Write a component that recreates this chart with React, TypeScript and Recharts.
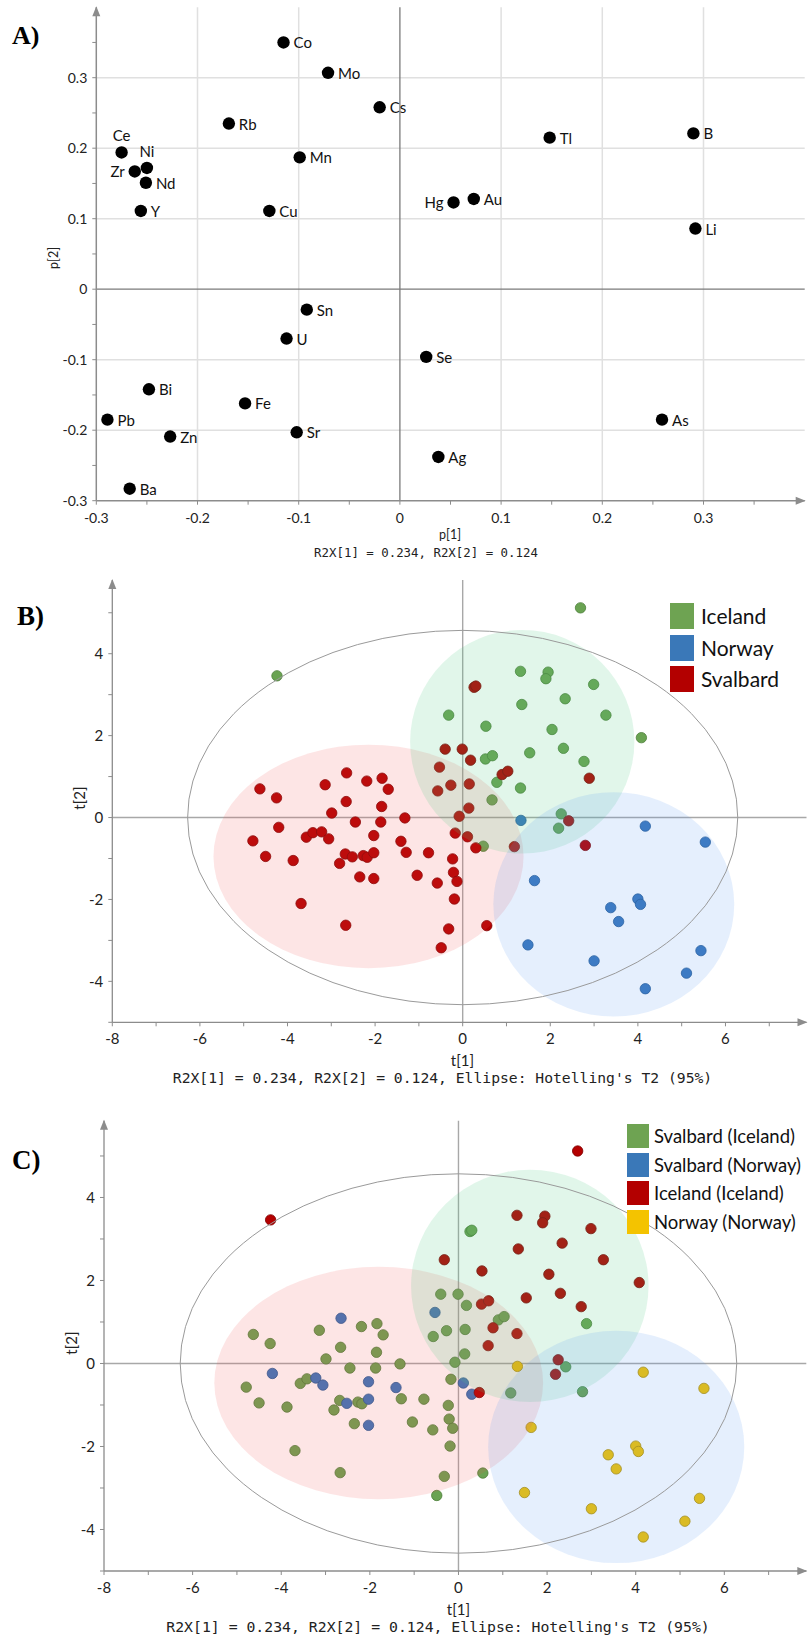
import React from 'react';
import {
  ScatterChart,
  Scatter,
  XAxis,
  YAxis,
  ReferenceLine,
  ReferenceArea,
  ReferenceDot
} from 'recharts';

// ---- Panel A: loadings ----
const loadingNames = ['Co', 'Mo', 'Cs', 'Rb', 'Ce', 'Ni', 'Zr', 'Nd', 'Y', 'Mn', 'Cu', 'Tl', 'B', 'Hg', 'Au', 'Li', 'Sn', 'U', 'Bi', 'Fe', 'Pb', 'Zn', 'Sr', 'Ba', 'Se', 'As', 'Ag'];
const loadingP1 = [-0.115, -0.071, -0.02, -0.169, -0.275, -0.25, -0.262, -0.251, -0.256, -0.099, -0.129, 0.148, 0.29, 0.053, 0.073, 0.292, -0.092, -0.112, -0.248, -0.153, -0.289, -0.227, -0.102, -0.267, 0.026, 0.259, 0.038];
const loadingP2 = [0.35, 0.307, 0.258, 0.235, 0.194, 0.172, 0.167, 0.151, 0.111, 0.187, 0.111, 0.215, 0.221, 0.123, 0.128, 0.086, -0.029, -0.07, -0.142, -0.162, -0.185, -0.209, -0.203, -0.283, -0.096, -0.185, -0.238];

const ticksA = [-0.3, -0.25, -0.2, -0.15, -0.1, -0.05, 0, 0.05, 0.1, 0.15, 0.2, 0.25, 0.3, 0.35];
const gridA = [-0.2, -0.1, 0.1, 0.2, 0.3];

// ---- Panels B and C: scores ----
const svalbardT1 = [-4.63, -4.25, -4.2, -4.79, -3.14, -2.65, -2.19, -1.84, -1.7, -2.66, -1.85, -2.99, -2.45, -1.87, -1.32, -3.57, -3.42, -3.22, -3.06, -2.03, -1.41, -4.5, -3.87, -3.69, -2.68, -2.81, -2.52, -2.27, -2.18, -2.03, -2.35, -2.03, -2.67, -1.29, 0.26, 0.3, -0.4, -0.01, 0.18, -0.53, 0.9, 1.03, -0.27, 0.15, -0.57, 2.89, 0.14, -0.08, -0.17, 0.11, 2.42, 1.18, 2.8, 0.3, -0.78, -0.23, -0.21, -0.13, -1.04, -0.58, -0.19, -0.32, 0.55, -0.49];
const svalbardT2 = [0.7, 0.48, -0.24, -0.57, 0.8, 1.09, 0.89, 0.96, 0.69, 0.39, 0.27, 0.11, -0.11, -0.11, -0.01, -0.48, -0.37, -0.35, -0.52, -0.44, -0.58, -0.95, -1.05, -2.1, -0.89, -1.12, -0.96, -0.93, -0.97, -0.86, -1.45, -1.49, -2.63, -0.85, 3.18, 3.21, 1.67, 1.67, 1.4, 1.23, 1.05, 1.13, 0.79, 0.82, 0.65, 0.96, 0.23, 0.03, -0.38, -0.47, -0.08, -0.71, -0.68, -0.74, -0.86, -1.01, -1.34, -1.56, -1.41, -1.6, -1.99, -2.72, -2.64, -3.18];
// predicted origin of each Svalbard sample (panel C)
const svalbardClass = ['I', 'I', 'N', 'I', 'I', 'N', 'I', 'I', 'I', 'I', 'I', 'I', 'I', 'I', 'I', 'I', 'I', 'N', 'N', 'N', 'N', 'I', 'I', 'I', 'I', 'I', 'N', 'I', 'I', 'N', 'I', 'N', 'I', 'I', 'I', 'I', 'I', 'I', 'I', 'N', 'I', 'I', 'I', 'I', 'I', 'I', 'I', 'I', 'I', 'N', 'I', 'I', 'I', 'N', 'I', 'I', 'I', 'I', 'I', 'I', 'I', 'I', 'I', 'I'];

const icelandT1 = [-4.24, 2.69, 1.32, 1.95, 1.9, 2.99, 2.34, 1.35, 3.27, -0.32, 0.53, 2.04, 4.08, 2.3, 1.53, 2.77, 0.52, 0.68, 0.78, 1.32, 0.67, 2.25, 2.19, 0.47];
const icelandT2 = [3.46, 5.12, 3.57, 3.55, 3.39, 3.25, 2.9, 2.76, 2.5, 2.5, 2.23, 2.15, 1.95, 1.69, 1.58, 1.37, 1.43, 1.51, 0.86, 0.72, 0.43, 0.09, -0.26, -0.7];

const norwayT1 = [1.33, 4.17, 5.54, 1.64, 3.38, 4.0, 4.06, 3.56, 1.49, 3.0, 5.44, 5.11, 4.17];
const norwayT2 = [-0.07, -0.21, -0.6, -1.54, -2.2, -1.99, -2.12, -2.54, -3.11, -3.5, -3.25, -3.8, -4.18];

const ticksX = [-8, -7, -6, -5, -4, -3, -2, -1, 0, 1, 2, 3, 4, 5, 6, 7];
const ticksY = [-5, -4, -3, -2, -1, 0, 1, 2, 3, 4, 5];

// class ellipses: Svalbard, Iceland, Norway
const ellipseCxB = [-2.15, 1.36, 3.45];
const ellipseCyB = [-0.95, 1.85, -2.12];
const ellipseRxB = [3.54, 2.56, 2.75];
const ellipseRyB = [2.73, 2.73, 2.74];
const ellipseCxC = [-1.8, 1.61, 3.56];
const ellipseCyC = [-0.47, 1.87, -2.01];
const ellipseRxC = [3.71, 2.68, 2.89];
const ellipseRyC = [2.8, 2.8, 2.8];
const hotelling = [6.28, 4.57];

const AXIS = '#8c8c8c';
const SANS = 'Lato, "Open Sans", sans-serif';
const MONO = '"DejaVu Sans Mono", monospace';
const ellipseFills = ['rgb(240,80,80)', 'rgb(80,200,130)', 'rgb(80,150,240)'];
const ellipseOpacity = [0.15, 0.17, 0.15];

const GREEN = { fill: '#6aa352', stroke: '#4b7d38' };
const BLUE = { fill: '#3a77bd', stroke: '#245a96' };
const RED = { fill: '#b40000', stroke: '#7d0000' };
const YELLOW = { fill: '#f2c200', stroke: '#b38f00' };

const labelSide: Record<string, string> = { Ce: 'top', Ni: 'top', Zr: 'left', Hg: 'left' };

const zip = (xs: number[], ys: number[]) => xs.map((x, i) => ({ x, y: ys[i] }));

const loadingData = loadingNames.map((name, i) => ({ name, x: loadingP1[i], y: loadingP2[i] }));

const dot = (c: { fill: string; stroke: string }) => (p: any) => (
  <circle cx={p.cx} cy={p.cy} r={5.2} fill={c.fill} stroke={c.stroke} strokeWidth={0.8} />
);

const loadingShape = (p: any) => {
  const side = labelSide[p.payload.name] || 'right';
  let tx = p.cx + 10;
  let ty = p.cy;
  let anchor: 'start' | 'end' | 'middle' = 'start';
  if (side === 'left') {
    tx = p.cx - 10;
    anchor = 'end';
  } else if (side === 'top') {
    tx = p.cx;
    ty = p.cy - 17;
    anchor = 'middle';
  }
  return (
    <g>
      <circle cx={p.cx} cy={p.cy} r={6.2} fill="#000" />
      <text x={tx} y={ty} textAnchor={anchor} dominantBaseline="central" fontSize={15} fontFamily={SANS} fill="#111">
        {p.payload.name}
      </text>
    </g>
  );
};

const ellipse = (fill: string, opacity: number, stroke?: string) => (p: any) => (
  <ellipse
    cx={p.x + p.width / 2}
    cy={p.y + p.height / 2}
    rx={Math.abs(p.width) / 2}
    ry={Math.abs(p.height) / 2}
    fill={fill}
    fillOpacity={opacity}
    stroke={stroke || 'none'}
    strokeWidth={1}
  />
);

const arrowRight = (p: any) => <path d={`M${p.cx + 1},${p.cy} l-10,-4 l0,8 z`} fill={AXIS} />;
const arrowUp = (p: any) => <path d={`M${p.cx},${p.cy - 1} l-4,10 l8,0 z`} fill={AXIS} />;

const fmtA = (v: number) => {
  if (Math.abs(v * 10 - Math.round(v * 10)) > 1e-6) return '';
  return Math.abs(v) < 1e-9 ? '0' : v.toFixed(1);
};
const fmtBC = (v: number) => (v % 2 === 0 ? String(v) : '');

const tickStyle = (size: number) => ({ fontSize: size, fill: '#222', fontFamily: SANS });

function ScorePlot({
  height,
  margin,
  cx,
  cy,
  rx,
  ry,
  yMax,
  series
}: {
  height: number;
  margin: { top: number; right: number; bottom: number; left: number };
  cx: number[];
  cy: number[];
  rx: number[];
  ry: number[];
  yMax: number;
  series: { data: { x: number; y: number }[]; color: { fill: string; stroke: string } }[];
}) {
  return (
    <ScatterChart width={810} height={height} margin={margin}>
      <XAxis
        type="number"
        dataKey="x"
        domain={[-8, 7.85]}
        ticks={ticksX}
        interval={0}
        tickFormatter={fmtBC}
        tick={tickStyle(15)}
        tickSize={4}
        tickMargin={7}
        height={30}
        axisLine={{ stroke: AXIS, strokeWidth: 1.3 }}
        tickLine={{ stroke: AXIS }}
        allowDataOverflow
      />
      <YAxis
        type="number"
        dataKey="y"
        domain={[-5, yMax]}
        ticks={ticksY}
        interval={0}
        tickFormatter={fmtBC}
        tick={tickStyle(15)}
        tickSize={4}
        tickMargin={5}
        width={60}
        axisLine={{ stroke: AXIS, strokeWidth: 1.3 }}
        tickLine={{ stroke: AXIS }}
        allowDataOverflow
      />
      <ReferenceLine x={0} stroke="#a8a8a8" strokeWidth={1.4} />
      <ReferenceLine y={0} stroke="#a8a8a8" strokeWidth={1.4} />
      {series.map((s, i) => (
        <Scatter key={i} data={s.data} shape={dot(s.color)} isAnimationActive={false} />
      ))}
      {cx.map((c, i) => (
        <ReferenceArea
          key={'e' + i}
          x1={c - rx[i]}
          x2={c + rx[i]}
          y1={cy[i] - ry[i]}
          y2={cy[i] + ry[i]}
          ifOverflow="visible"
          shape={ellipse(ellipseFills[i], ellipseOpacity[i])}
          zIndex={700}
        />
      ))}
      <ReferenceArea
        x1={-hotelling[0]}
        x2={hotelling[0]}
        y1={-hotelling[1]}
        y2={hotelling[1]}
        ifOverflow="visible"
        shape={ellipse('none', 0, '#9a9a9a')}
        zIndex={710}
      />
      <ReferenceDot x={7.85} y={-5} ifOverflow="visible" shape={arrowRight} zIndex={720} />
      <ReferenceDot x={-8} y={yMax} ifOverflow="visible" shape={arrowUp} zIndex={720} />
    </ScatterChart>
  );
}

const svalbardPoints = zip(svalbardT1, svalbardT2);
const icelandPoints = zip(icelandT1, icelandT2);
const norwayPoints = zip(norwayT1, norwayT2);
const svalbardAsIceland = svalbardPoints.filter((_, i) => svalbardClass[i] === 'I');
const svalbardAsNorway = svalbardPoints.filter((_, i) => svalbardClass[i] === 'N');

const legendB = [
  { label: 'Iceland', color: '#6ea352' },
  { label: 'Norway', color: '#3a78b8' },
  { label: 'Svalbard', color: '#b30000' }
];
const legendC = [
  { label: 'Svalbard (Iceland)', color: '#6ea352' },
  { label: 'Svalbard (Norway)', color: '#3a78b8' },
  { label: 'Iceland (Iceland)', color: '#b30000' },
  { label: 'Norway (Norway)', color: '#f4c300' }
];

export default function App() {
  return (
    <div style={{ position: 'absolute', left: 0, top: 0, width: 810, height: 1638, background: '#fff', overflow: 'hidden' }}>
      {/* Panel A */}
      <div style={{ position: 'absolute', left: 0, top: 0 }}>
        <ScatterChart width={810} height={560} margin={{ top: 7.2, right: 5.3, bottom: 29.3, left: 36.3 }}>
          <XAxis
            type="number"
            dataKey="x"
            domain={[-0.3, 0.4]}
            ticks={ticksA}
            interval={0}
            tickFormatter={fmtA}
            tick={tickStyle(14)}
            tickSize={4}
            tickMargin={8}
            height={30}
            axisLine={{ stroke: AXIS, strokeWidth: 1.5 }}
            tickLine={{ stroke: AXIS }}
            allowDataOverflow
          />
          <YAxis
            type="number"
            dataKey="y"
            domain={[-0.3, 0.4]}
            ticks={ticksA}
            interval={0}
            tickFormatter={fmtA}
            tick={tickStyle(14)}
            tickSize={4}
            tickMargin={5}
            width={60}
            axisLine={{ stroke: AXIS, strokeWidth: 1.5 }}
            tickLine={{ stroke: AXIS }}
            allowDataOverflow
          />
          {gridA.map((v) => (
            <ReferenceLine key={'gx' + v} x={v} stroke="#e0e0e0" strokeWidth={1.5} zIndex={-50} />
          ))}
          {gridA.map((v) => (
            <ReferenceLine key={'gy' + v} y={v} stroke="#e0e0e0" strokeWidth={1.5} zIndex={-50} />
          ))}
          <ReferenceLine x={0} stroke="#7a7a7a" strokeWidth={1.3} zIndex={-40} />
          <ReferenceLine y={0} stroke="#7a7a7a" strokeWidth={1.3} zIndex={-40} />
          <Scatter data={loadingData} shape={loadingShape} isAnimationActive={false} />
          <ReferenceDot x={0.4} y={-0.3} ifOverflow="visible" shape={arrowRight} zIndex={720} />
          <ReferenceDot x={-0.3} y={0.4} ifOverflow="visible" shape={arrowUp} zIndex={720} />
        </ScatterChart>
      </div>

      {/* Panel B */}
      <div style={{ position: 'absolute', left: 0, top: 560 }}>
        <ScorePlot
          height={540}
          margin={{ top: 20, right: 3.5, bottom: 47.7, left: 52.3 }}
          cx={ellipseCxB}
          cy={ellipseCyB}
          rx={ellipseRxB}
          ry={ellipseRyB}
          yMax={5.8}
          series={[
            { data: icelandPoints, color: GREEN },
            { data: norwayPoints, color: BLUE },
            { data: svalbardPoints, color: RED }
          ]}
        />
      </div>

      {/* Panel C */}
      <div style={{ position: 'absolute', left: 0, top: 1100 }}>
        <ScorePlot
          height={538}
          margin={{ top: 20.7, right: 3.7, bottom: 37, left: 44 }}
          cx={ellipseCxC}
          cy={ellipseCyC}
          rx={ellipseRxC}
          ry={ellipseRyC}
          yMax={5.85}
          series={[
            { data: svalbardAsIceland, color: GREEN },
            { data: svalbardAsNorway, color: BLUE },
            { data: icelandPoints, color: RED },
            { data: norwayPoints, color: YELLOW }
          ]}
        />
      </div>

      {/* legends */}
      {legendB.map((l, i) => (
        <div key={l.label} style={{ position: 'absolute', left: 670, top: 603 + i * 31.5, height: 26, display: 'flex', alignItems: 'center' }}>
          <div style={{ width: 24, height: 26, background: l.color }} />
          <span style={{ marginLeft: 7, fontFamily: SANS, fontSize: 21, color: '#111', lineHeight: '26px' }}>{l.label}</span>
        </div>
      ))}
      {legendC.map((l, i) => (
        <div key={l.label} style={{ position: 'absolute', left: 627, top: 1124 + i * 28.5, height: 24, display: 'flex', alignItems: 'center' }}>
          <div style={{ width: 22, height: 24, background: l.color }} />
          <span style={{ marginLeft: 5, fontFamily: SANS, fontSize: 18.5, color: '#111', lineHeight: '24px' }}>{l.label}</span>
        </div>
      ))}

      {/* titles and captions */}
      <svg width={810} height={1638} style={{ position: 'absolute', left: 0, top: 0, pointerEvents: 'none' }}>
        <text x={12} y={44} fontFamily='"Liberation Serif", serif' fontWeight="bold" fontSize={26} fill="#000">A)</text>
        <text x={17} y={625} fontFamily='"Liberation Serif", serif' fontWeight="bold" fontSize={27} fill="#000">B)</text>
        <text x={12} y={1169} fontFamily='"Liberation Serif", serif' fontWeight="bold" fontSize={27} fill="#000">C)</text>

        <text transform="translate(53,258) rotate(-90)" textAnchor="middle" dominantBaseline="central" fontFamily={SANS} fontSize={12.5} fill="#222">p[2]</text>
        <text x={450} y={534} textAnchor="middle" dominantBaseline="central" fontFamily={SANS} fontSize={12.5} fill="#222">p[1]</text>
        <text x={426} y={552} textAnchor="middle" dominantBaseline="central" fontFamily={MONO} fontSize={12.4} fill="#222">R2X[1] = 0.234, R2X[2] = 0.124</text>

        <text transform="translate(79,798) rotate(-90)" textAnchor="middle" dominantBaseline="central" fontFamily={SANS} fontSize={15} fill="#222">t[2]</text>
        <text x={462.5} y={1060} textAnchor="middle" dominantBaseline="central" fontFamily={SANS} fontSize={15} fill="#222">t[1]</text>
        <text x={442.5} y={1077} textAnchor="middle" dominantBaseline="central" fontFamily={MONO} fontSize={14.7} fill="#222">R2X[1] = 0.234, R2X[2] = 0.124, Ellipse: Hotelling's T2 (95%)</text>

        <text transform="translate(71,1343) rotate(-90)" textAnchor="middle" dominantBaseline="central" fontFamily={SANS} fontSize={15} fill="#222">t[2]</text>
        <text x={458.5} y={1609} textAnchor="middle" dominantBaseline="central" fontFamily={SANS} fontSize={15} fill="#222">t[1]</text>
        <text x={438} y={1626} textAnchor="middle" dominantBaseline="central" fontFamily={MONO} fontSize={14.8} fill="#222">R2X[1] = 0.234, R2X[2] = 0.124, Ellipse: Hotelling's T2 (95%)</text>
      </svg>
    </div>
  );
}
